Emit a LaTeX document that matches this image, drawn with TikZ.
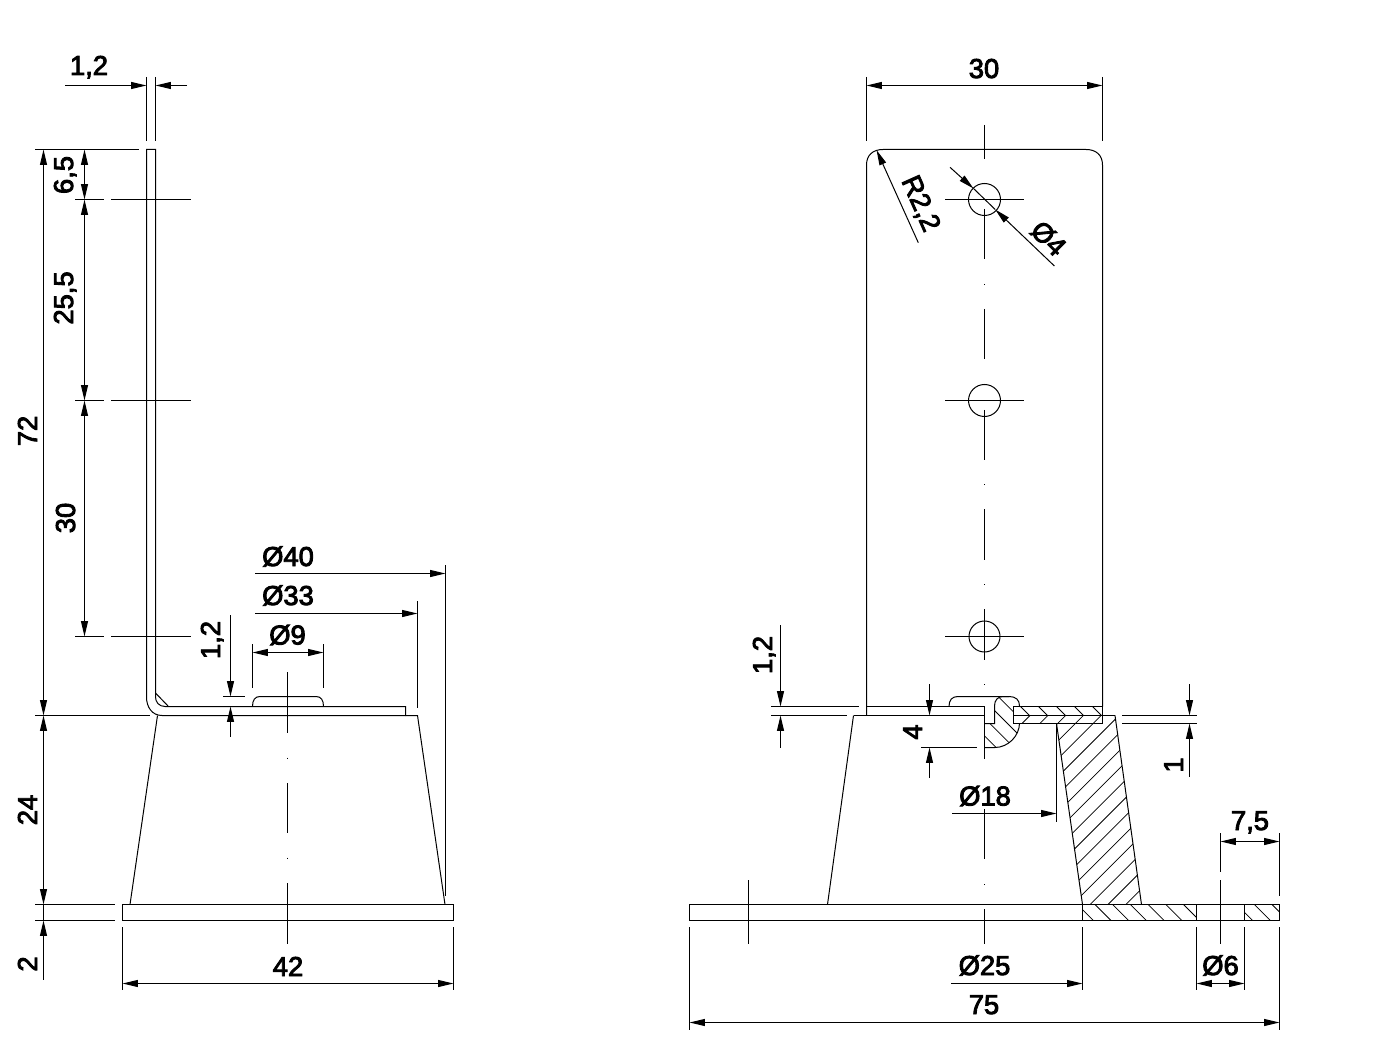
\documentclass[tikz,border=0pt]{standalone}
\usepackage{fontspec}
\setmainfont{Liberation Sans}
\newfontfamily\dimfont[FakeBold=3.2]{Liberation Sans}
\usetikzlibrary{arrows.meta}
\tikzset{
  ln/.style={line width=0.75pt,black},
  thin hatch/.style={line width=0.55pt,black},
  tipa/.style={-{Triangle[length=11.5pt,width=5.2pt]}},
  tipb/.style={{Triangle[length=11.5pt,width=5.2pt]}-},
  tipab/.style={{Triangle[length=11.5pt,width=5.2pt]}-{Triangle[length=11.5pt,width=5.2pt]}},
  lab/.style={font=\dimfont\fontsize{20.5}{24}\selectfont,inner sep=0pt,text height=15pt,text depth=0pt,align=center}
}
\begin{document}
\begin{tikzpicture}[x=0.75pt,y=-0.75pt,ln]
\useasboundingbox (0,0) rectangle (1396,1048);
\fill[white] (0,0) rectangle (1396,1048);

%% ---------- LEFT VIEW ----------
% bent sheet
\draw (146.5,149.5) -- (155.5,149.5) -- (155.5,697) .. controls (155.5,702) and (159,706.5) .. (165,706.5)
  -- (405.5,706.5) -- (405.5,715.5) -- (162,715.5) .. controls (152,715.5) and (146.5,707) .. (146.5,697) -- cycle;
\draw (155.5,693) -- (168.5,706.5);
% cone and base
\draw (157.5,715.5) -- (130,904.5);
\draw (405.5,715.5) -- (417.5,715.5) -- (445,904.5);
\draw (122.5,904.5) rectangle (453.5,920.5);
% rivet bump
\draw (252.5,706.5) .. controls (252.5,700) and (255,696.5) .. (260,696.5) -- (316,696.5)
  .. controls (321,696.5) and (323.5,700) .. (323.5,706.5);
% centre line
\draw (287.5,672) -- (287.5,733);
\draw (287.5,757.5) -- (287.5,758.5);
\draw (287.5,783) -- (287.5,833);
\draw (287.5,857.5) -- (287.5,858.5);
\draw (287.5,883) -- (287.5,944);
% hole marks
\foreach \yy in {199.5,400.5,636.5}{
  \draw (75,\yy) -- (104,\yy);
  \draw (111,\yy) -- (191,\yy);
}
% extension lines
\draw (146.5,77) -- (146.5,141);
\draw (155.5,77) -- (155.5,141);
\draw (35,149.5) -- (139,149.5);
\draw (35,715.5) -- (150,715.5);
\draw (35,904.5) -- (115,904.5);
\draw (35,920.5) -- (115,920.5);
\draw (122.5,927) -- (122.5,990);
\draw (453.5,927) -- (453.5,990);
\draw (252.5,644) -- (252.5,688);
\draw (323.5,644) -- (323.5,688);
\draw (417.5,601) -- (417.5,708);
\draw (445.5,565) -- (445.5,896);
\draw (223,696.5) -- (245,696.5);
% dimensions
\draw[tipa] (65,85.5) -- (146.5,85.5);
\draw[tipa] (187,85.5) -- (155.5,85.5);
\draw[tipab] (43.5,149.5) -- (43.5,715.5);
\draw[tipab] (43.5,715.5) -- (43.5,904.5);
\draw[tipb] (43.5,920.5) -- (43.5,980);
\draw (43.5,904.5) -- (43.5,920.5);
\draw[tipab] (84.5,149.5) -- (84.5,199.5);
\draw[tipab] (84.5,199.5) -- (84.5,400.5);
\draw[tipab] (84.5,400.5) -- (84.5,636.5);
\draw[tipab] (122.5,983.5) -- (453.5,983.5);
\draw[tipab] (252.5,652.5) -- (323.5,652.5);
\draw[tipa] (255,613.5) -- (417.5,613.5);
\draw[tipa] (255,573.5) -- (445.5,573.5);
\draw[tipa] (230.5,615) -- (230.5,696.5);
\draw[tipb] (230.5,706.5) -- (230.5,737);
% labels
\node[lab] (l12t) at (89,65) {1,2};
\node[lab,rotate=90] (l65) at (63,175) {6,5};
\node[lab,rotate=90] (l255) at (63,298) {25,5};
\node[lab,rotate=90] (l30) at (65,518) {30};
\node[lab,rotate=90] (l72) at (27,431) {72};
\node[lab,rotate=90] (l24) at (27,810) {24};
\node[lab,rotate=90] (l2) at (27,964) {2};
\node[lab] (l42) at (288,966) {42};
\node[lab] (lo40) at (288,556) {Ø40};
\node[lab] (lo33) at (288,595) {Ø33};
\node[lab] (lo9) at (287.5,634.5) {Ø9};
\node[lab,rotate=90] (l12b) at (210,640) {1,2};

%% ---------- RIGHT VIEW ----------
% plate outline
\draw (866.5,715.5) -- (866.5,165) .. controls (866.5,155) and (873,149.5) .. (883,149.5)
  -- (1086,149.5) .. controls (1096,149.5) and (1102.5,155) .. (1102.5,165) -- (1102.5,706.5);
% holes and marks
\foreach \yy/\rr in {199.5/16,400.5/16,636.5/15.5}{
  \draw (984.5,\yy) circle[radius=\rr];
  \draw (945,\yy) -- (1024,\yy);
}
% centre line
\draw (984.5,125) -- (984.5,159);
\draw (984.5,209) -- (984.5,259);
\draw (984.5,284) -- (984.5,285);
\draw (984.5,309) -- (984.5,359.5);
\draw (984.5,410) -- (984.5,460);
\draw (984.5,484) -- (984.5,485);
\draw (984.5,509) -- (984.5,559.5);
\draw (984.5,584) -- (984.5,585);
\draw (984.5,609) -- (984.5,660);
\draw (984.5,684) -- (984.5,685);
\draw (984.5,706.5) -- (984.5,759);
\draw (984.5,809) -- (984.5,859);
\draw (984.5,884) -- (984.5,885);
\draw (984.5,909) -- (984.5,944);
% flange sheet left part
\draw (866.5,706.5) -- (984.5,706.5);
\draw (853.5,715.5) -- (984.5,715.5);
\draw (853.5,715.5) -- (827.5,904.5);
\draw (949,706.5) .. controls (949,700) and (952,696.5) .. (958,696.5) -- (1009,696.5);
% rivet section
\begin{scope}
\clip (984.5,723.5) -- (994.5,723.5) -- (994.5,706) .. controls (994.5,700) and (998,696.5) .. (1003,696.5)
  -- (1009,696.5) .. controls (1016,696.5) and (1019.5,700) .. (1019.5,706) -- (1019.5,723)
  .. controls (1019.5,736) and (1008,747.5) .. (995,747.5) -- (984.5,747.5) -- cycle;
\foreach \k in {-2,...,8}{
  \draw[thin hatch] ({301.7-17.7*\k+680},680) -- ({301.7-17.7*\k+760},760);
}
\end{scope}
\draw (984.5,723.5) -- (994.5,723.5) -- (994.5,706) .. controls (994.5,700) and (998,696.5) .. (1003,696.5)
  -- (1009,696.5) .. controls (1016,696.5) and (1019.5,700) .. (1019.5,706) -- (1019.5,723)
  .. controls (1019.5,736) and (1008,747.5) .. (995,747.5) -- (984.5,747.5);
% cone section
\fill[white] (1013.5,706.5) rectangle (1102.5,723.5);
\begin{scope}
\clip (1013.5,715.5) -- (1115,715.5) -- (1141.5,904.5) -- (1082.5,904.5) -- (1056.5,723.5) -- (1013.5,723.5) -- cycle;
\foreach \k in {-2,...,30}{
  \draw[thin hatch] ({1745.5+17.8*\k-700},700) -- ({1745.5+17.8*\k-910},910);
}
\end{scope}
\draw (1056.5,723.5) -- (1082.5,904.5);
\draw (1115,715.5) -- (1141.5,904.5);
\draw (1102.5,715.5) -- (1115,715.5);
% upper sheet section
\begin{scope}
\clip (1013.5,706.5) rectangle (1102.5,715.5);
\foreach \k in {-1,...,6}{
  \draw[thin hatch] ({314+18*\k+700},700) -- ({314+18*\k+720},720);
}
\end{scope}
\draw (1013.5,706.5) rectangle (1102.5,723.5);
\draw (1013.5,715.5) -- (1102.5,715.5);
% base plate
\begin{scope}
\clip (1082.5,904.5) rectangle (1196.5,920.5) (1244.5,904.5) rectangle (1279.5,920.5);
\foreach \k in {-2,...,12}{
  \draw[thin hatch] ({190.5+17.7*\k+900},900) -- ({190.5+17.7*\k+925},925);
}
\end{scope}
\draw (689.5,904.5) rectangle (1279.5,920.5);
\draw (1082.5,904.5) -- (1082.5,920.5);
\draw (1196.5,904.5) -- (1196.5,920.5);
\draw (1244.5,904.5) -- (1244.5,920.5);
% centre marks on plate
\draw (748.5,880) -- (748.5,944);
\draw (1220.5,833) -- (1220.5,872);
\draw (1220.5,880) -- (1220.5,943.5);
% extension lines
\draw (866.5,77) -- (866.5,141);
\draw (1102.5,77) -- (1102.5,141);
\draw (771,706.5) -- (859,706.5);
\draw (771,715.5) -- (847,715.5);
\draw (921,747.5) -- (977,747.5);
\draw (1122,715.5) -- (1197,715.5);
\draw (1122,723.5) -- (1197,723.5);
\draw (1056.5,723.5) -- (1056.5,822);
\draw (1082.5,927) -- (1082.5,990);
\draw (1196.5,927) -- (1196.5,990);
\draw (1244.5,927) -- (1244.5,990);
\draw (689.5,927) -- (689.5,1030);
\draw (1279.5,927) -- (1279.5,1030);
\draw (1279.5,833) -- (1279.5,896);
% dimensions
\draw[tipab] (866.5,85.5) -- (1102.5,85.5);
\draw[tipa] (918.3,242.7) -- (876.5,150);
\draw[tipa] (950,167.3) -- (973.5,188.5);
\draw (973.5,188.5) -- (995.2,209.5);
\draw[tipa] (1054.4,266) -- (995.2,209.5);
\draw[tipa] (780.5,625) -- (780.5,706.5);
\draw[tipb] (780.5,715.5) -- (780.5,747.5);
\draw[tipa] (929.5,684) -- (929.5,715.5);
\draw[tipb] (929.5,747.5) -- (929.5,778);
\draw[tipa] (1189.5,684) -- (1189.5,715.5);
\draw[tipb] (1189.5,723.5) -- (1189.5,777);
\draw[tipa] (952,813.5) -- (1056.5,813.5);
\draw[tipa] (951,983.5) -- (1082.5,983.5);
\draw[tipab] (1196.5,983.5) -- (1244.5,983.5);
\draw[tipab] (689.5,1022.5) -- (1279.5,1022.5);
\draw[tipab] (1220.5,841.5) -- (1279.5,841.5);
% labels
\node[lab] (r30) at (984,68) {30};
\node[lab,rotate=-66] (rr22) at (922,203) {R2,2};
\node[lab,rotate=-45] (ro4) at (1049,238) {Ø4};
\node[lab,rotate=90] (r12) at (762,655) {1,2};
\node[lab,rotate=90] (r4) at (912,732) {4};
\node[lab,rotate=90] (r1) at (1173,765) {1};
\node[lab] (ro18) at (985,795.5) {Ø18};
\node[lab] (ro25) at (984.5,965) {Ø25};
\node[lab] (r75) at (984,1004) {75};
\node[lab] (r75b) at (1250,820) {7,5};
\node[lab] (ro6) at (1220.5,965) {Ø6};
\end{tikzpicture}
\end{document}
